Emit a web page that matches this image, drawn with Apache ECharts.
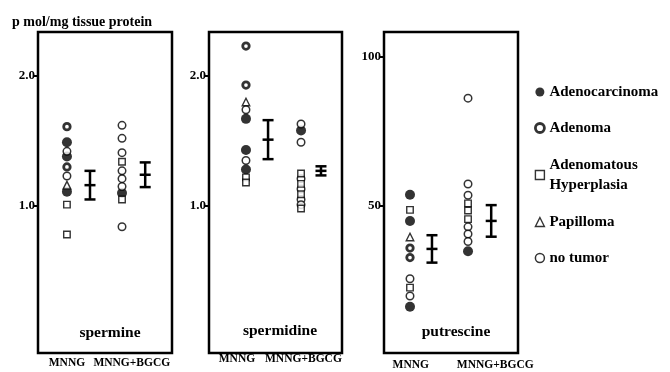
<!DOCTYPE html>
<html><head><meta charset="utf-8">
<script src="https://cdn.jsdelivr.net/npm/echarts@6/dist/echarts.min.js"></script>
<style>html,body{margin:0;padding:0;background:#fff}#c{width:670px;height:372px}</style>
</head><body><div id="c"></div>
<script>
// ---------- data ----------
const panels = ['spermine', 'spermidine', 'putrescine'];
const groups = ['MNNG', 'MNNG+BGCG'];
const types = ['Adenocarcinoma', 'Adenoma', 'Adenomatous Hyperplasia', 'Papilloma', 'no tumor'];
const yUnit = 'p mol/mg tissue protein';
const yTickValues = [[1.0, 2.0], [1.0, 2.0], [50, 100]];
const yTickLabels = [['1.0', '2.0'], ['1.0', '2.0'], ['50', '100']];

// values per type, order as in `types`
const spermineMNNG = [[1.49, 1.38, 1.11], [1.61, 1.30], [1.01, 0.78], [1.16], [1.42, 1.23]];
const spermineBGCG = [[1.10], [], [1.34, 1.05], [], [1.62, 1.52, 1.41, 1.27, 1.21, 1.15, 0.84]];
const spermineMean = [1.16, 1.24];
const spermineErr = [0.11, 0.095];

const spermidineMNNG = [[1.67, 1.43, 1.28], [2.23, 1.93], [1.22, 1.18], [1.80], [1.74, 1.35]];
const spermidineBGCG = [[1.58], [], [1.25, 1.17, 1.09, 0.98], [], [1.63, 1.49, 1.21, 1.13, 1.05, 1.01]];
const spermidineMean = [1.51, 1.27];
const spermidineErr = [0.15, 0.035];

const putrescineMNNG = [[53.8, 45.0, 16.2], [35.9, 32.7], [48.7, 22.6], [39.6], [25.6, 19.8]];
const putrescineBGCG = [[34.8], [], [50.9, 48.5, 45.6], [], [86.2, 57.4, 53.6, 43.0, 40.6, 38.1]];
const putrescineMean = [35.6, 45.0];
const putrescineErr = [4.6, 5.3];

// ---------- layout / style ----------
const panelData = [
  [spermineMNNG, spermineBGCG, spermineMean, spermineErr],
  [spermidineMNNG, spermidineBGCG, spermidineMean, spermidineErr],
  [putrescineMNNG, putrescineBGCG, putrescineMean, putrescineErr]
];
const gridBoxes = [
  {left: 38, top: 32, width: 134, height: 321},
  {left: 209, top: 32, width: 133, height: 321},
  {left: 384, top: 32, width: 134, height: 321}
];
const yRanges = [[-0.131, 2.338], [-0.131, 2.338], [0.67, 108.4]];
const ptsX = [[0.216, 0.627], [0.278, 0.692], [0.194, 0.627]];
const barX = [[0.388, 0.80], [0.444, 0.842], [0.358, 0.80]];
const catX = [[0.216, 0.70], [0.21, 0.71], [0.20, 0.83]];
const catMargin = [4, 0, 6];
const titlePos = [[105, 320], [275, 318], [451, 319]];
const FONT = 'Liberation Serif';

const symStyles = [
  {symbol: 'circle', symbolSize: 10, itemStyle: {color: '#000', borderColor: '#000', borderWidth: 0}},
  {symbol: 'circle', symbolSize: 6.5, itemStyle: {color: '#fff', borderColor: '#000', borderWidth: 2.8}},
  {symbol: 'rect', symbolSize: 6.5, itemStyle: {color: '#fff', borderColor: '#000', borderWidth: 1.4}},
  {symbol: 'triangle', symbolSize: 7.5, itemStyle: {color: '#fff', borderColor: '#000', borderWidth: 1.4}},
  {symbol: 'circle', symbolSize: 7.5, itemStyle: {color: '#fff', borderColor: '#000', borderWidth: 1.5}}
];

const grids = [], xAxes = [], yAxes = [], series = [], titles = [];
titles.push({text: yUnit, left: 7, top: 10, textStyle: {fontFamily: FONT, fontSize: 14, fontWeight: 'bold', color: '#000'}});

panels.forEach((p, pi) => {
  const g = gridBoxes[pi];
  grids.push(Object.assign({show: true, borderColor: '#000', borderWidth: 2.5, backgroundColor: 'transparent', containLabel: false}, g));
  xAxes.push({
    gridIndex: pi, type: 'value', min: 0, max: 1,
    axisLine: {show: false}, axisTick: {show: false}, splitLine: {show: false},
    axisLabel: {
      customValues: catX[pi],
      formatter: (v) => groups[catX[pi].indexOf(v)] || '',
      margin: catMargin[pi],
      fontFamily: FONT, fontSize: 11.5, fontWeight: 'bold', color: '#000'
    }
  });
  yAxes.push({
    gridIndex: pi, type: 'value', min: yRanges[pi][0], max: yRanges[pi][1],
    axisLine: {show: false}, splitLine: {show: false},
    axisTick: {show: true, customValues: yTickValues[pi], length: 5, lineStyle: {color: '#000', width: 2}},
    axisLabel: {
      customValues: yTickValues[pi],
      formatter: (v) => yTickLabels[pi][yTickValues[pi].indexOf(v)],
      margin: 3, fontFamily: FONT, fontSize: 13, fontWeight: 'bold', color: '#000'
    }
  });
  titles.push({
    text: p, left: titlePos[pi][0], top: titlePos[pi][1], textAlign: 'center',
    textStyle: {fontFamily: FONT, fontSize: 15.5, fontWeight: 'bold', color: '#000'}
  });
  const [mn, bg, mean, err] = panelData[pi];
  types.forEach((t, ti) => {
    const data = [];
    mn[ti].forEach(v => data.push([ptsX[pi][0], v]));
    bg[ti].forEach(v => data.push([ptsX[pi][1], v]));
    series.push(Object.assign({
      type: 'scatter', name: t, xAxisIndex: pi, yAxisIndex: pi, data: data,
      silent: true, animation: false, z: 3 + (ti === 2 ? 1 : 0)
    }, JSON.parse(JSON.stringify(symStyles[ti]))));
  });
  series.push({
    type: 'custom', name: p + ' mean', xAxisIndex: pi, yAxisIndex: pi, clip: false,
    animation: false, silent: true,
    data: [[barX[pi][0], mean[0], err[0]], [barX[pi][1], mean[1], err[1]]],
    encode: {x: 0, y: 1},
    renderItem: (params, api) => {
      const x = api.value(0), m = api.value(1), e = api.value(2);
      const top = api.coord([x, m + e]), mid = api.coord([x, m]), bot = api.coord([x, m - e]);
      const hw = 5.5;
      const st = {stroke: '#000', lineWidth: 2.5};
      return {type: 'group', children: [
        {type: 'line', shape: {x1: top[0], y1: top[1], x2: bot[0], y2: bot[1]}, style: st},
        {type: 'line', shape: {x1: top[0] - hw, y1: top[1], x2: top[0] + hw, y2: top[1]}, style: st},
        {type: 'line', shape: {x1: mid[0] - hw, y1: mid[1], x2: mid[0] + hw, y2: mid[1]}, style: st},
        {type: 'line', shape: {x1: bot[0] - hw, y1: bot[1], x2: bot[0] + hw, y2: bot[1]}, style: st}
      ]};
    }
  });
});

const legendText = {fontFamily: FONT, fontSize: 15, fontWeight: 'bold', color: '#000', lineHeight: 18};
const chart = echarts.init(document.getElementById('c'), null, {renderer: 'canvas'});
chart.setOption({
  backgroundColor: '#fff',
  animation: false,
  title: titles,
  grid: grids,
  xAxis: xAxes,
  yAxis: yAxes,
  legend: {
    data: types, orient: 'vertical', left: 529, top: 78,
    itemWidth: 9, itemHeight: 9, itemGap: 18,
    itemStyle: {borderWidth: 'inherit'},
    selectedMode: false,
    formatter: (n) => n === 'Adenomatous Hyperplasia' ? '{h|Adenomatous}\n{h|Hyperplasia}' : n,
    textStyle: Object.assign({}, legendText, {rich: {h: Object.assign({}, legendText, {lineHeight: 20})}})
  },
  series: series
});
</script></body></html>
